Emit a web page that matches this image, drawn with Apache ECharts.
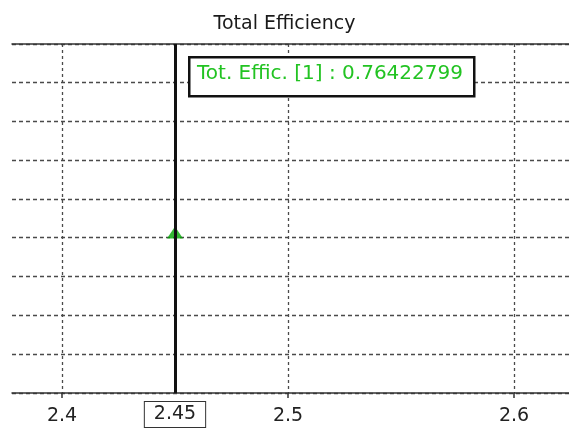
<!DOCTYPE html>
<html><head><meta charset="utf-8">
<script src="https://cdn.jsdelivr.net/npm/echarts@6/dist/echarts.min.js"></script>
<style>html,body{margin:0;padding:0;background:#fff}#c{width:569px;height:428px}</style>
</head><body><div id="c"></div>
<script>
const chartTitle = 'Total Efficiency';
const seriesName = 'Tot. Effic. [1]';
const xValues = [2.45];
const yValues = [0.76422799];
const xTickValues = [2.4, 2.5, 2.6];
const cursorX = [2.45];
const xRange = [2.37788, 2.62434];
const yRange = [0.72285, 0.81285];
const yStep = 0.01;

const font = 'DejaVu Sans';
const chart = echarts.init(document.getElementById('c'), null, {renderer: 'canvas'});
const pts = xValues.map((x, i) => [x, yValues[i]]);
const tipText = seriesName + ' : ' + yValues[0].toFixed(8);

chart.setOption({
  animation: false,
  backgroundColor: '#fff',
  title: {text: chartTitle, left: 'center', top: 10,
    textStyle: {fontFamily: font, fontSize: 19, fontWeight: 'normal', color: '#1a1a1a'}},
  grid: {left: 12, right: 0, top: 44, bottom: 35, containLabel: false},
  xAxis: [{
    type: 'value', min: xRange[0], max: xRange[1], position: 'bottom',
    axisLine: {show: true, onZero: false, lineStyle: {color: '#333', width: 1.5}},
    axisTick: {show: true, customValues: xTickValues, length: 5, lineStyle: {color: '#333', width: 1.5}},
    axisLabel: {show: true, customValues: xTickValues, margin: 14, formatter: v => String(v),
      fontFamily: font, fontSize: 19, color: '#222'},
    splitLine: {show: true, lineStyle: {color: '#4a4a4a', type: [3, 3], width: 1.3}}
  }, {
    type: 'value', min: xRange[0], max: xRange[1], position: 'top',
    axisLine: {show: true, onZero: false, lineStyle: {color: '#333', width: 1.5}},
    axisTick: {show: false}, axisLabel: {show: false}, splitLine: {show: false}
  }],
  yAxis: {
    type: 'value', min: yRange[0], max: yRange[1], interval: yStep,
    axisLine: {show: false}, axisTick: {show: false}, axisLabel: {show: false},
    splitLine: {show: true, lineStyle: {color: '#4a4a4a', type: [4, 3], width: 1.3}}
  },
  series: [{
    type: 'scatter', name: seriesName, data: pts,
    symbol: 'triangle', symbolSize: [16, 12],
    itemStyle: {color: '#00a800'}, z: 3,
    markLine: {
      silent: true, symbol: ['none', 'none'], z: 6,
      lineStyle: {color: '#111', width: 3, type: 'solid'},
      label: {show: true, position: 'start', distance: 9, formatter: p => String(p.value),
        fontFamily: font, fontSize: 19, color: '#222', backgroundColor: '#fff',
        borderColor: '#333', borderWidth: 1, padding: [3, 9, 3, 9]},
      data: cursorX.map(x => ({xAxis: x}))
    }
  }],
  graphic: [{
    type: 'rect', left: 188, top: 56, z: 100,
    shape: {x: 0, y: 0, width: 285, height: 39},
    style: {fill: '#fff', stroke: '#111', lineWidth: 2.5}
  }, {
    type: 'text', left: 197, top: 64, z: 101,
    style: {text: tipText, fill: '#22c322', font: '20px "DejaVu Sans"'}
  }]
});
</script></body></html>
